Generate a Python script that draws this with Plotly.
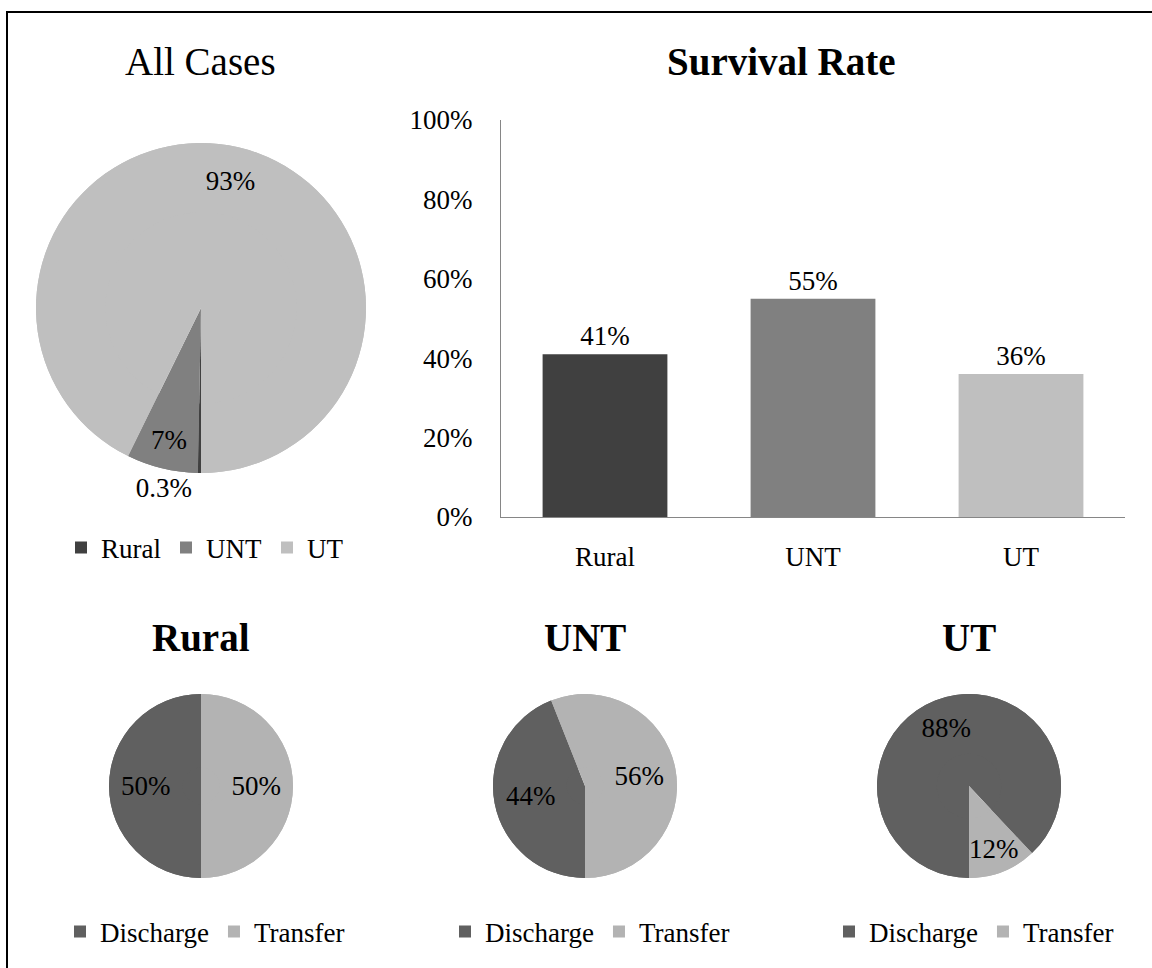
import plotly.graph_objects as go

W, H = 1152, 968

# ---- data ----
all_labels = ["Rural", "UNT", "UT"]
all_values = [0.3, 7, 93]
all_colors = ["#404040", "#808080", "#bfbfbf"]

bar_categories = ["Rural", "UNT", "UT"]
survival_rate = [41, 55, 36]
y_ticks = [0, 20, 40, 60, 80, 100]

outcome_labels = ["Discharge", "Transfer"]
outcome_colors = ["#606060", "#b3b3b3"]
rural_values = [50, 50]
unt_values = [44, 56]
ut_values = [88, 12]

FONT = "Liberation Serif, serif"
TXT = 27
TITLE = 39


def px_x(p):
    return p / W


def px_y(p):
    return 1 - p / H


def dom_x(a, b):
    return [px_x(a), px_x(b)]


def dom_y(top, bottom):
    return [px_y(bottom), px_y(top)]


fig = go.Figure()


def add_pie(labels, values, colors, domain, legend, text_hole, textposition="inside"):
    # solid pie body
    fig.add_trace(go.Pie(
        labels=labels, values=values, sort=False, direction="clockwise",
        rotation=180, marker=dict(colors=colors, line=dict(width=0)),
        textinfo="none", domain=domain, showlegend=False, legend=legend,
        hoverinfo="skip",
    ))
    # same slices as a ring carrying the labels (keeps labels out near the rim)
    fig.add_trace(go.Pie(
        labels=labels, values=values, sort=False, direction="clockwise",
        rotation=180, hole=text_hole,
        marker=dict(colors=colors, line=dict(width=0)),
        texttemplate="%{value}%", textposition=textposition,
        insidetextorientation="horizontal",
        textfont=dict(family=FONT, size=TXT, color="black"),
        domain=domain, legend=legend, hoverinfo="label+value",
    ))


# All cases pie
add_pie(all_labels, all_values, all_colors,
        dict(x=dom_x(36, 366), y=dom_y(143, 473)), "legend", 0.58,
        ["outside", "inside", "inside"])

# Survival rate bars
fig.add_trace(go.Bar(
    x=bar_categories, y=survival_rate, marker=dict(color=all_colors, line=dict(width=0)),
    texttemplate="%{y}%", textposition="outside", cliponaxis=False,
    textfont=dict(family=FONT, size=TXT, color="black"), showlegend=False,
    width=0.6, hoverinfo="x+y",
))

# outcome pies
centers = [201, 585, 969]
pie_sets = [rural_values, unt_values, ut_values]
legends = ["legend2", "legend3", "legend4"]
holes = [0.2, 0.2, 0.35]
R = 92
for k, (cx, vals, lg, hh) in enumerate(zip(centers, pie_sets, legends, holes)):
    labs = [lab + "\u200b" * k for lab in outcome_labels]
    add_pie(labs, vals, outcome_colors,
            dict(x=dom_x(cx - R, cx + R), y=dom_y(786 - R, 786 + R)), lg, hh)

leg_common = dict(orientation="h", xanchor="center", yanchor="middle",
                  font=dict(family=FONT, size=TXT, color="black"),
                  bgcolor="rgba(0,0,0,0)", itemwidth=30)

titles = [
    ("All Cases", 200, 62, False),
    ("Survival Rate", 781, 62, True),
    ("Rural", 201, 637, True),
    ("UNT", 585, 637, True),
    ("UT", 969, 637, True),
]
annotations = []
for t, x, y, bold in titles:
    annotations.append(dict(
        text=f"<b>{t}</b>" if bold else t, x=px_x(x), y=px_y(y), xref="paper", yref="paper",
        xanchor="center", yanchor="middle", showarrow=False,
        font=dict(family=FONT, size=TITLE, color="black"),
    ))

fig.update_layout(
    width=W, height=H,
    margin=dict(l=0, r=0, t=0, b=0, pad=0, autoexpand=False),
    paper_bgcolor="white", plot_bgcolor="white",
    font=dict(family=FONT, size=TXT, color="black"),
    uniformtext=dict(minsize=TXT, mode="show"),
    xaxis=dict(domain=dom_x(501, 1125), showline=True, linecolor="#868686", linewidth=1,
               ticks="", tickfont=dict(family=FONT, size=TXT, color="black"),
               ticklabelstandoff=16, showgrid=False, zeroline=False, fixedrange=True,
               automargin=False),
    yaxis=dict(domain=dom_y(120, 517), range=[0, 100], tickvals=y_ticks,
               ticktext=[f"{v}%" for v in y_ticks], showline=True, linecolor="#868686",
               linewidth=1, ticks="", showgrid=False, zeroline=False,
               tickfont=dict(family=FONT, size=TXT, color="black"),
               ticklabelstandoff=22, fixedrange=True, automargin=False),
    legend=dict(x=px_x(205), y=px_y(548), **leg_common),
    legend2=dict(x=px_x(205), y=px_y(932), **leg_common),
    legend3=dict(x=px_x(590), y=px_y(932), **leg_common),
    legend4=dict(x=px_x(974), y=px_y(932), **leg_common),
    annotations=annotations,
    shapes=[dict(type="rect", xref="paper", yref="paper",
                 x0=px_x(7), x1=px_x(1170), y0=px_y(990), y1=px_y(12),
                 line=dict(color="black", width=2), fillcolor="rgba(0,0,0,0)")],
    showlegend=True,
)

fig.write_html("out.html", config={"displayModeBar": False},
               post_script="document.body.style.margin='0';document.body.style.overflow='hidden';")
